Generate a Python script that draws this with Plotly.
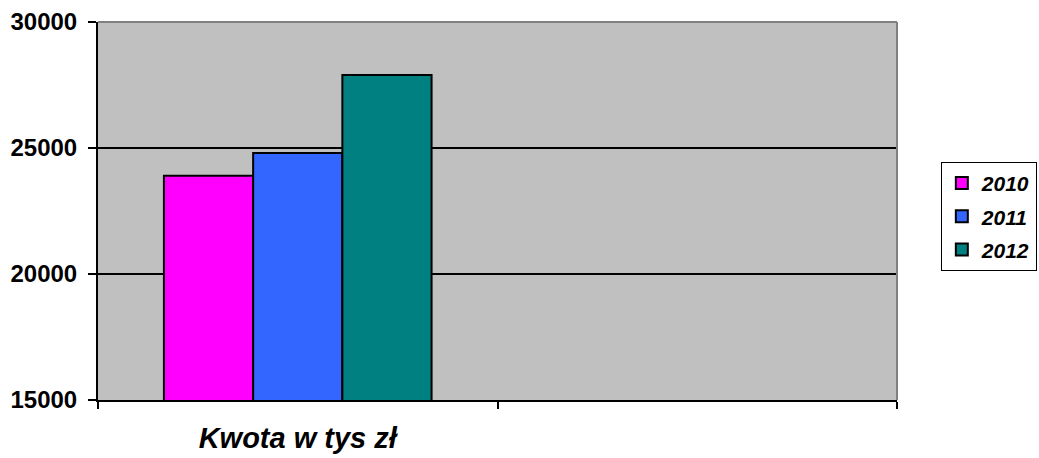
import plotly.graph_objects as go

categories = ["Kwota w tys zł", " "]
years = ["2010", "2011", "2012"]
values_2010 = [23900, None]
values_2011 = [24800, None]
values_2012 = [27900, None]
colors = ["#FF00FF", "#3366FF", "#008080"]
y_ticks = [15000, 20000, 25000, 30000]
y_tick_labels = ["15000", "20000", "25000", "30000"]

FONT = "Liberation Sans, Arial, sans-serif"

fig = go.Figure()
for i, (name, vals) in enumerate(zip(years, [values_2010, values_2011, values_2012])):
    fig.add_trace(go.Bar(
        x=categories, y=vals, name=name, legendgroup=name,
        marker=dict(color=colors[i], line=dict(color="black", width=2)),
    ))

fig.update_layout(
    width=1039, height=458,
    margin=dict(l=98, r=142, t=22, b=58, autoexpand=False),
    paper_bgcolor="white", plot_bgcolor="#C0C0C0",
    barmode="group", bargap=0.33, bargroupgap=0,
    font=dict(family=FONT, color="black"),
    showlegend=True,
    legend=dict(
        x=1.175, xanchor="right", y=0.63, yanchor="top",
        bordercolor="black", borderwidth=1, bgcolor="white",
        font=dict(size=21, weight="bold", style="italic", family=FONT),
        tracegroupgap=3, itemwidth=30,
    ),
    xaxis=dict(
        type="category", range=[-0.5, 1.5], automargin=False,
        showline=True, linecolor="black", linewidth=2,
        ticks="outside", tickson="boundaries", ticklen=7, tickwidth=2, tickcolor="black",
        showgrid=False,
        tickfont=dict(size=29, weight="bold", style="italic", family=FONT),
        ticklabelstandoff=11,
    ),
    yaxis=dict(
        range=[15000, 30000], tickvals=y_ticks, ticktext=y_tick_labels, automargin=False,
        showline=True, linecolor="black", linewidth=2,
        ticks="outside", ticklen=8, tickwidth=2, tickcolor="black",
        showgrid=True, gridcolor="black", gridwidth=1.5,
        tickfont=dict(size=24, weight="bold", family=FONT),
        ticklabelstandoff=6,
        zeroline=False,
    ),
    shapes=[
        dict(type="line", xref="x domain", yref="y domain", x0=0, x1=1, y0=1, y1=1,
             line=dict(color="#808080", width=2), layer="above"),
        dict(type="line", xref="x domain", yref="y domain", x0=1, x1=1, y0=0, y1=1,
             line=dict(color="#808080", width=2), layer="above"),
    ],
)

fig.write_html("out.html", config={"displayModeBar": False},
               post_script="document.body.style.margin='0';")
